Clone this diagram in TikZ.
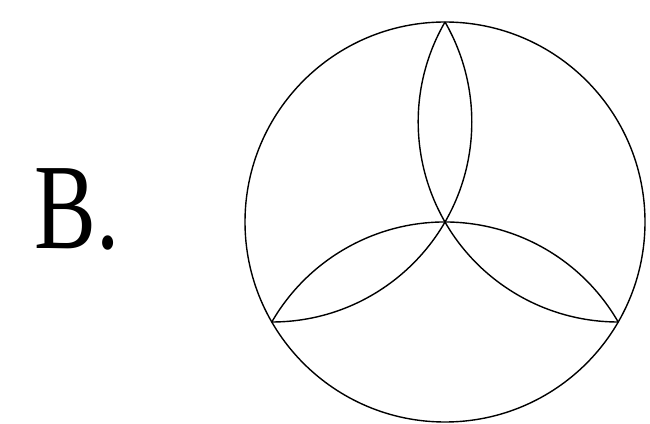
\documentclass[tikz,border=0pt]{standalone}
\usepackage{fontspec}
\setmainfont{Liberation Serif}
\begin{document}
\begin{tikzpicture}[x=1pt, y=1pt, line width=1.4pt]
\useasboundingbox (0,0) rectangle (650,423);
\coordinate (O) at (445,201);
\node[font=\fontsize{122}{130}\selectfont, inner sep=0pt, xscale=0.76] (lbl) at (77,214) {B.};
\draw (O) circle[radius=200];
\foreach \c in {30,150,270}
  \draw ([shift={(\c+60:200)}]O) arc[start angle=\c+120, end angle=\c+240, radius=200];
\end{tikzpicture}
\end{document}
